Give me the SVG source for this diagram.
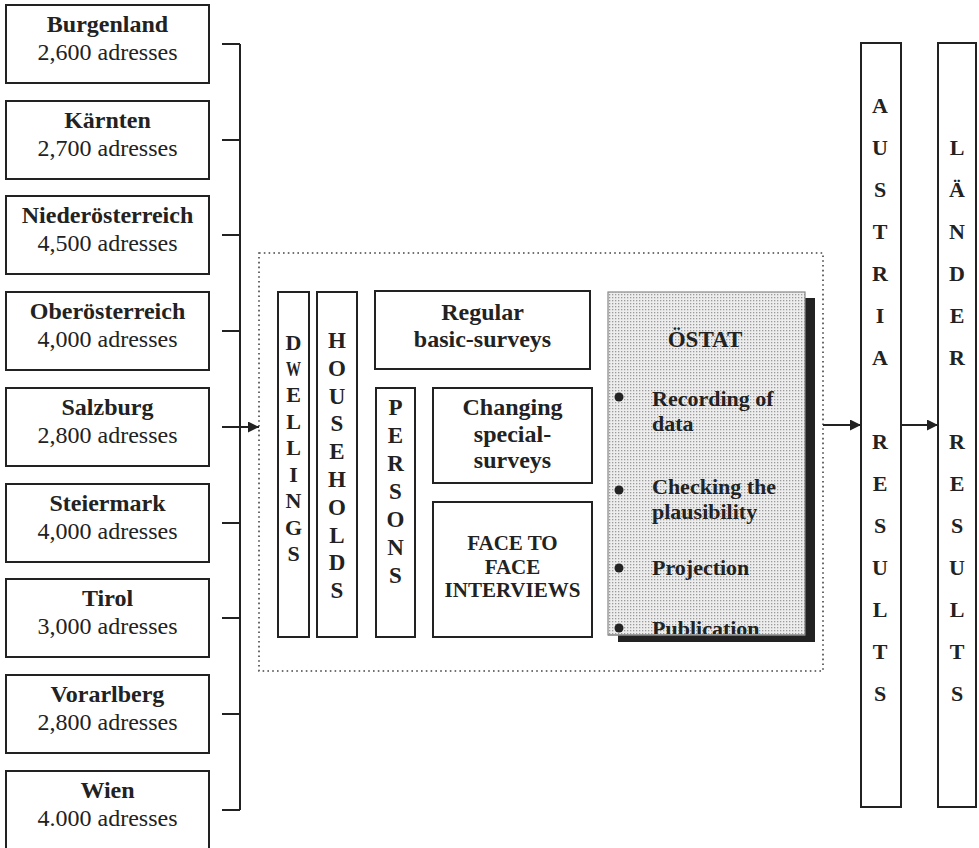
<svg xmlns="http://www.w3.org/2000/svg" width="979" height="848" viewBox="0 0 979 848">
<style>
.box{fill:#fff;stroke:#222;stroke-width:2}
.t{font-family:"Liberation Serif","Times New Roman",serif;fill:#222;text-anchor:middle}
.b{font-weight:bold}
.s24{font-size:24px}
.s23{font-size:23px}
.s22{font-size:22px}
.s21{font-size:21px}
.ln{fill:none;stroke:#222;stroke-width:2}
.dot{fill:none;stroke:#444;stroke-width:1.6;stroke-dasharray:1.6 3.2}
.bl{font-family:"Liberation Serif","Times New Roman",serif;font-weight:bold;font-size:22px;fill:#222}
</style>
<defs>
<marker id="ah" viewBox="0 0 10 10" refX="10" refY="5" markerWidth="11" markerHeight="11" markerUnits="userSpaceOnUse" orient="auto">
<path d="M0,0 L10,5 L0,10 z" fill="#222"/>
</marker>
<pattern id="stip" width="3" height="3" patternUnits="userSpaceOnUse">
<rect width="3" height="3" fill="#ededed"/>
<rect width="1.3" height="1.3" fill="#9a9a9a"/>
</pattern>
<clipPath id="oc"><rect x="608" y="292" width="197" height="342"/></clipPath>
</defs>
<rect width="979" height="848" fill="#fff"/>

<g id="burgenland"><rect class="box" x="6" y="5" width="203" height="78"/>
<text class="t b s24" x="107.5" y="32">Burgenland</text><text class="t s24" x="107.5" y="60">2,600 adresses</text></g>
<g id="kaernten"><rect class="box" x="6" y="101" width="203" height="78"/>
<text class="t b s24" x="107.5" y="128">Kärnten</text><text class="t s24" x="107.5" y="156">2,700 adresses</text></g>
<g id="niederoesterreich"><rect class="box" x="6" y="196" width="203" height="78"/>
<text class="t b s24" x="107.5" y="223">Niederösterreich</text><text class="t s24" x="107.5" y="251">4,500 adresses</text></g>
<g id="oberoesterreich"><rect class="box" x="6" y="292" width="203" height="78"/>
<text class="t b s24" x="107.5" y="319">Oberösterreich</text><text class="t s24" x="107.5" y="347">4,000 adresses</text></g>
<g id="salzburg"><rect class="box" x="6" y="388" width="203" height="78"/>
<text class="t b s24" x="107.5" y="415">Salzburg</text><text class="t s24" x="107.5" y="443">2,800 adresses</text></g>
<g id="steiermark"><rect class="box" x="6" y="484" width="203" height="78"/>
<text class="t b s24" x="107.5" y="511">Steiermark</text><text class="t s24" x="107.5" y="539">4,000 adresses</text></g>
<g id="tirol"><rect class="box" x="6" y="579" width="203" height="78"/>
<text class="t b s24" x="107.5" y="606">Tirol</text><text class="t s24" x="107.5" y="634">3,000 adresses</text></g>
<g id="vorarlberg"><rect class="box" x="6" y="675" width="203" height="78"/>
<text class="t b s24" x="107.5" y="702">Vorarlberg</text><text class="t s24" x="107.5" y="730">2,800 adresses</text></g>
<g id="wien"><rect class="box" x="6" y="771" width="203" height="80"/>
<text class="t b s24" x="107.5" y="798">Wien</text><text class="t s24" x="107.5" y="826">4.000 adresses</text></g>

<g id="survey-area"><rect class="dot" x="259" y="253" width="564" height="418"/></g>

<g id="dwellings"><rect class="box" x="278" y="292" width="31" height="345"/>
<text class="t b s22" x="293.5"><tspan x="293.5" y="350">D</tspan><tspan x="293.5" y="376" textLength="15" lengthAdjust="spacingAndGlyphs">W</tspan><tspan x="293.5" y="402">E</tspan><tspan x="293.5" y="428.5">L</tspan><tspan x="293.5" y="455">L</tspan><tspan x="293.5" y="481.5">I</tspan><tspan x="293.5" y="508">N</tspan><tspan x="293.5" y="534.5">G</tspan><tspan x="293.5" y="561">S</tspan></text></g>

<g id="households"><rect class="box" x="317" y="292" width="40" height="345"/>
<text class="t b s23" x="337"><tspan x="337" y="348">H</tspan><tspan x="337" y="375.8">O</tspan><tspan x="337" y="403.6">U</tspan><tspan x="337" y="431.4">S</tspan><tspan x="337" y="459.2">E</tspan><tspan x="337" y="487">H</tspan><tspan x="337" y="514.8">O</tspan><tspan x="337" y="542.6">L</tspan><tspan x="337" y="570.4">D</tspan><tspan x="337" y="598.2">S</tspan></text></g>

<g id="regular"><rect class="box" x="375" y="291" width="215" height="78"/>
<text class="t b s24" x="482.5" y="320">Regular</text><text class="t b s24" x="482.5" y="347">basic-surveys</text></g>

<g id="persons"><rect class="box" x="376" y="388" width="39" height="249"/>
<text class="t b s23" x="395.5"><tspan x="395.5" y="415">P</tspan><tspan x="395.5" y="443">E</tspan><tspan x="395.5" y="471">R</tspan><tspan x="395.5" y="499">S</tspan><tspan x="395.5" y="527">O</tspan><tspan x="395.5" y="555">N</tspan><tspan x="395.5" y="583">S</tspan></text></g>

<g id="changing"><rect class="box" x="433" y="388" width="159" height="95"/>
<text class="t b s24" x="512.5" y="415">Changing</text><text class="t b s24" x="512.5" y="442">special-</text><text class="t b s24" x="512.5" y="468">surveys</text></g>

<g id="face-to-face"><rect class="box" x="433" y="502" width="159" height="135"/>
<text class="t b s21" x="512.5" y="550">FACE TO</text><text class="t b s21" x="512.5" y="573.5">FACE</text><text class="t b s21" x="512.5" y="597">INTERVIEWS</text></g>

<g id="oestat">
<rect x="618" y="298" width="197" height="344" fill="#222"/>
<rect x="608" y="292" width="197" height="343" fill="url(#stip)" stroke="#888" stroke-width="1.2"/>
<text class="t b s23" x="705" y="347">ÖSTAT</text>
<g clip-path="url(#oc)">
<circle cx="619" cy="397" r="4.5" fill="#222"/>
<text class="bl" x="652" y="406">Recording of</text><text class="bl" x="652" y="431">data</text>
<circle cx="619" cy="490" r="4.5" fill="#222"/>
<text class="bl" x="652" y="494">Checking the</text><text class="bl" x="652" y="519">plausibility</text>
<circle cx="619" cy="568" r="4.5" fill="#222"/>
<text class="bl" x="652" y="575">Projection</text>
<circle cx="619" cy="628" r="4.5" fill="#222"/>
<text class="bl" x="652" y="636">Publication</text>
</g>
<line x1="608" y1="635" x2="805" y2="635" stroke="#888" stroke-width="1.2"/>
</g>

<g id="austria-results"><rect class="box" x="861" y="43" width="40" height="764"/>
<text class="t b s22" x="880"><tspan x="880" y="113">A</tspan><tspan x="880" y="155">U</tspan><tspan x="880" y="197">S</tspan><tspan x="880" y="239">T</tspan><tspan x="880" y="281">R</tspan><tspan x="880" y="323">I</tspan><tspan x="880" y="365">A</tspan><tspan x="880" y="449">R</tspan><tspan x="880" y="491">E</tspan><tspan x="880" y="533">S</tspan><tspan x="880" y="575">U</tspan><tspan x="880" y="617">L</tspan><tspan x="880" y="659">T</tspan><tspan x="880" y="701">S</tspan></text></g>

<g id="laender-results"><rect class="box" x="938" y="43" width="38" height="764"/>
<text class="t b s22" x="957"><tspan x="957" y="155">L</tspan><tspan x="957" y="197">Ä</tspan><tspan x="957" y="239">N</tspan><tspan x="957" y="281">D</tspan><tspan x="957" y="323">E</tspan><tspan x="957" y="365">R</tspan><tspan x="957" y="449">R</tspan><tspan x="957" y="491">E</tspan><tspan x="957" y="533">S</tspan><tspan x="957" y="575">U</tspan><tspan x="957" y="617">L</tspan><tspan x="957" y="659">T</tspan><tspan x="957" y="701">S</tspan></text></g>

<g id="connectors">
<path class="ln" d="M240,44 V810"/>
<path class="ln" d="M222,44 H240 M222,140 H240 M222,235 H240 M222,331 H240 M222,523 H240 M222,618 H240 M222,714 H240 M222,810 H240"/>
<line class="ln" x1="222" y1="427" x2="259" y2="427" marker-end="url(#ah)"/>
<line class="ln" x1="823" y1="425" x2="861" y2="425" marker-end="url(#ah)"/>
<line class="ln" x1="901" y1="425" x2="938" y2="425" marker-end="url(#ah)"/>
</g>
</svg>
